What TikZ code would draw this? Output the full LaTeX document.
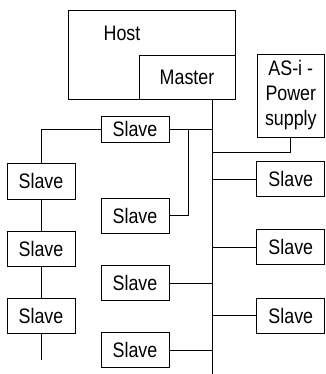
\documentclass[tikz,border=0pt]{standalone}
\usepackage{fontspec}
\setmainfont{Liberation Sans}[FakeStretch=0.85]
\begin{document}
\begin{tikzpicture}[x=1pt,y=-1pt,
  box/.style={draw, line width=0.8pt, inner sep=0pt, anchor=center, font=\fontsize{21}{25}\selectfont},
  slavebox/.style={box, minimum width=68pt, minimum height=35pt},
  wire/.style={line width=0.8pt},
  lbl/.style={font=\fontsize{21}{25}\selectfont, inner sep=0pt}]
\useasboundingbox (0,0) rectangle (325,374);
% Host and Master
\node[box, minimum width=167pt, minimum height=89pt] (host) at (151.5,54.5) {};
\node[lbl] (hosttext) at (122,33) {Host};
\node[box, minimum width=96pt, minimum height=44pt] (master) at (187,77) {Master};
% Power supply
\node[box, minimum width=67pt, minimum height=83pt, align=center] (psu) at (290.8,95.5) {AS-i -\\Power\\supply};
% Slaves
\node[slavebox, minimum height=26pt] (t) at (135,129) {Slave};
\node[slavebox] (m2) at (135,215.5) {Slave};
\node[slavebox] (m3) at (135,283) {Slave};
\node[slavebox] (m4) at (135,350) {Slave};
\node[slavebox, minimum height=36pt] (l1) at (41,181) {Slave};
\node[slavebox] (l2) at (41,249) {Slave};
\node[slavebox] (l3) at (41,315.5) {Slave};
\node[slavebox] (r1) at (290.8,179) {Slave};
\node[slavebox] (r2) at (290.8,247) {Slave};
\node[slavebox] (r3) at (290.8,315.5) {Slave};
% coordinates
\coordinate (busend) at (212,374);
\coordinate (psuj) at (212,152);
\coordinate (tj) at (212,129);
\coordinate (tb) at (188,129);
\coordinate (lend) at (41,360);
% bus
\draw[wire] (master.south -| busend) -- (busend);
\draw[wire] (psu.south) -- (psu.south |- psuj) -- (psuj);
\draw[wire] (t.east) -- (tj);
\draw[wire] (tb) |- (m2.east);
\draw[wire] (t.west) -| (l1.north);
\draw[wire] (l1.south) -- (l2.north);
\draw[wire] (l2.south) -- (l3.north);
\draw[wire] (l3.south) -- (lend);
\draw[wire] (r1.west) -- (r1.west -| busend);
\draw[wire] (r2.west) -- (r2.west -| busend);
\draw[wire] (r3.west) -- (r3.west -| busend);
\draw[wire] (m3.east) -- (m3.east -| busend);
\draw[wire] (m4.east) -- (m4.east -| busend);
\end{tikzpicture}
\end{document}
